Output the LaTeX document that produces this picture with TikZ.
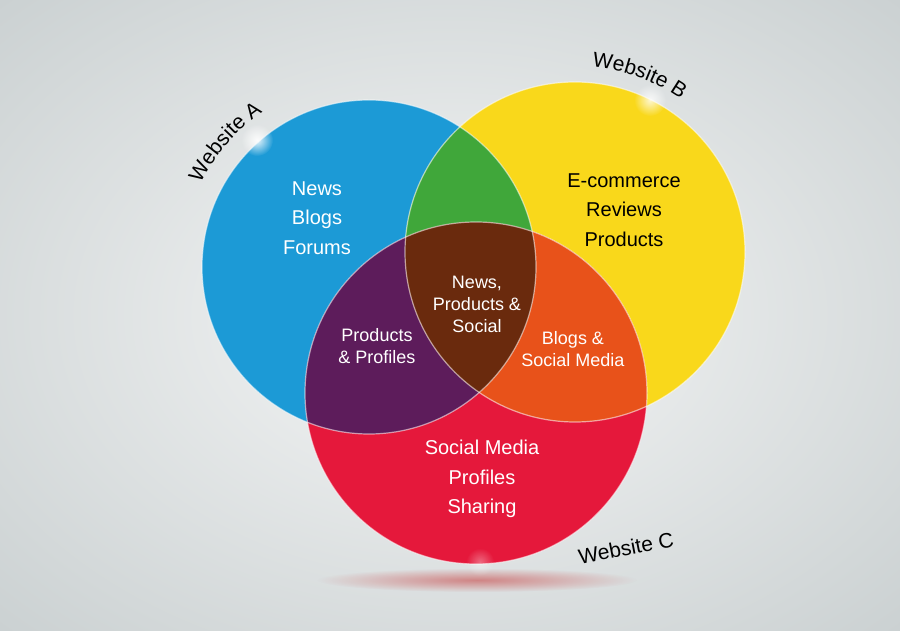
\documentclass[tikz,border=0pt]{standalone}
\usepackage{fontspec}
\setmainfont{Liberation Sans}
\usetikzlibrary{decorations.text,fadings}
\definecolor{bgin}{HTML}{F6F7F7}
\definecolor{bgout}{HTML}{CBD1D2}
\definecolor{cblue}{HTML}{1C9AD6}
\definecolor{cyellow}{HTML}{F9D81B}
\definecolor{cred}{HTML}{E5183B}
\definecolor{cgreen}{HTML}{40A73A}
\definecolor{cpurple}{HTML}{5D1C5B}
\definecolor{corange}{HTML}{E8521A}
\definecolor{cbrown}{HTML}{6A2A0D}
\tikzfading[name=glow, inner color=transparent!0, outer color=transparent!100]
\tikzset{
  big/.style={font=\fontsize{20}{29.5}\selectfont, align=center},
  small/.style={font=\fontsize{18}{22}\selectfont, align=center},
  wtxt/.style={text=white},
  btxt/.style={text=black},
  rim/.style={draw=white, draw opacity=0.55, line width=1.2pt},
  curved/.style={decorate, decoration={text along path, text align=center, text color=black, text={|\fontsize{21}{21}\selectfont|#1}}}
}
\begin{document}
\begin{tikzpicture}[x=1pt,y=1pt]
\useasboundingbox (0,0) rectangle (900,630);
\begin{scope}
  \clip (0,0) rectangle (900,630);
  \shade[inner color=bgin, outer color=bgout] (-186,-130) rectangle (1086,760);
\end{scope}
% shadow
\fill[red!55!gray, path fading=glow, fill opacity=0.55] (477,50) ellipse (160 and 12);
\coordinate (cA) at (369,363);
\coordinate (cB) at (575,378);
\coordinate (cC) at (476,237);
\fill[cblue] (cA) circle (167);
\fill[cyellow] (cB) circle (170);
\fill[cred] (cC) circle (171);
\begin{scope}
  \clip (cA) circle (167);
  \fill[cgreen] (cB) circle (170);
  \fill[cpurple] (cC) circle (171);
\end{scope}
\begin{scope}
  \clip (cB) circle (170);
  \fill[corange] (cC) circle (171);
  \clip (cA) circle (167);
  \fill[cbrown] (cC) circle (171);
\end{scope}
\draw[rim] (cA) circle (167);
\draw[rim] (cB) circle (170);
\draw[rim] (cC) circle (171);
% glints
\fill[white, path fading=glow, fill opacity=0.9] (257,490) circle (16);
\fill[white, path fading=glow, fill opacity=0.8] (650,530) circle (16);
\fill[white, path fading=glow, fill opacity=0.35] (480,68) circle (14);
% labels
\node[big, wtxt] (tA) at (317,412) {News\\Blogs\\Forums};
\node[big, btxt] (tB) at (624,420) {E-commerce\\Reviews\\Products};
\node[big, wtxt] (tC) at (482,151) {Social Media\\Profiles\\Sharing};
\node[small, wtxt] (tABC) at (477,326) {News,\\Products \&\\Social};
\node[small, wtxt] (tAC) at (377,284) {Products\\\& Profiles};
\node[small, wtxt] (tBC) at (573,281) {Blogs \&\\Social Media};
% website names
\path[curved={Website A}] ([shift={(169:188)}]cA) arc[start angle=169, end angle=109, radius=188];
\path[curved={Website B}] ([shift={(100:186)}]cB) arc[start angle=100, end angle=40, radius=186];
\node[font=\fontsize{21}{21}\selectfont, rotate=11] (wC) at (626,82) {Website C};
\end{tikzpicture}
\end{document}
